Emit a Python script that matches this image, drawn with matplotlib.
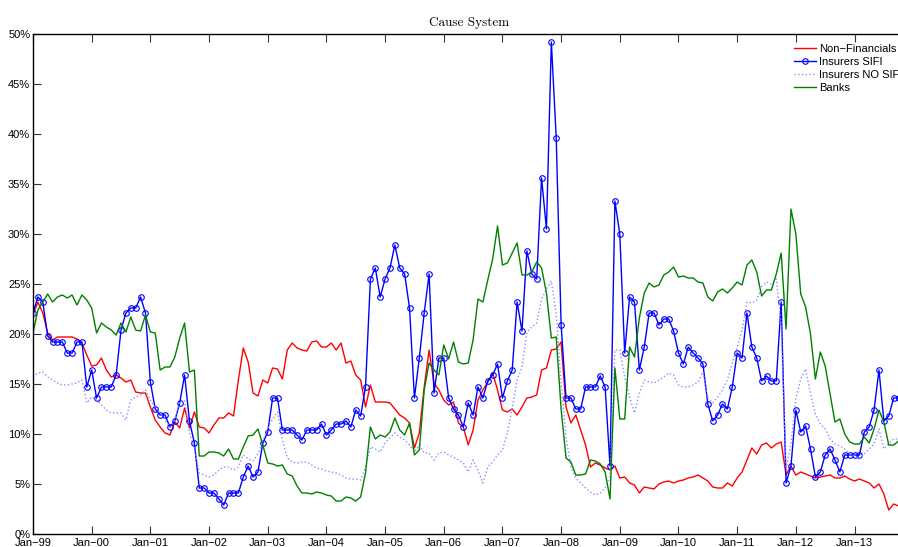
import numpy as np
import matplotlib
matplotlib.use("Agg")
import matplotlib.pyplot as plt

# monthly series, Jan-99 .. Oct-13 (values in %)
non_financials = [
    21.9, 23.2, 22.1, 20.1, 19.4, 19.7, 19.7, 19.7, 19.7, 19.5, 19.1, 17.9,
    16.8, 16.9, 17.6, 16.4, 15.7, 15.9, 15.6, 15.2, 15.4, 14.2, 14.1, 14.1,
    12.7, 11.4, 10.7, 10.1, 9.9, 11.2, 10.6, 12.6, 10.6, 12.2, 10.7, 10.6,
    10.1, 10.9, 11.6, 11.6, 12.1, 11.8, 15.4, 18.6, 17.2, 14.1, 13.8, 15.4,
    15.1, 16.6, 16.5, 15.5, 18.4, 19.1, 18.6, 18.4, 18.3, 19.2, 19.3, 18.7,
    18.7, 19.1, 18.4, 19.1, 17.1, 17.3, 15.9, 15.4, 12.7, 14.9, 13.2, 13.2,
    13.2, 13.1, 12.5, 11.9, 11.6, 11.1, 8.6, 10.1, 14.7, 18.4, 15.1, 14.4,
    13.4, 12.9, 13.2, 11.1, 10.7, 8.9, 10.4, 13.4, 14.4, 15.2, 16.1, 14.4,
    12.4, 12.2, 12.5, 11.9, 12.7, 13.6, 13.7, 13.9, 16.4, 16.6, 18.4, 18.5,
    19.2, 12.7, 11.1, 11.9, 10.4, 8.9, 6.7, 7.1, 6.9, 6.6, 6.4, 6.8,
    5.6, 5.7, 5.1, 4.9, 4.1, 4.7, 4.6, 4.5, 5.0, 5.2, 5.3, 5.1,
    5.3, 5.4, 5.6, 5.7, 5.9, 5.6, 5.3, 4.7, 4.6, 4.6, 5.1, 4.8,
    5.6, 6.2, 7.4, 8.6, 8.0, 8.9, 9.1, 8.6, 9.0, 9.2, 5.9, 6.8,
    5.9, 6.2, 6.0, 5.8, 5.6, 5.7, 5.8, 5.9, 5.6, 5.6, 5.8, 5.5,
    5.3, 5.5, 5.3, 5.1, 4.6, 5.0, 4.0, 2.4, 3.0, 2.8,
]

insurers_sifi = [
    22.1, 23.7, 23.2, 19.8, 19.2, 19.2, 19.2, 18.1, 18.1, 19.2, 19.2, 14.7,
    16.4, 13.6, 14.7, 14.7, 14.7, 15.9, 20.4, 22.1, 22.6, 22.6, 23.7, 22.1,
    15.2, 12.5, 11.9, 11.9, 10.7, 11.3, 13.1, 15.9, 11.3, 9.1, 4.6, 4.6,
    4.1, 4.1, 3.5, 2.9, 4.1, 4.1, 4.1, 5.7, 6.8, 5.7, 6.2, 9.1,
    10.2, 13.6, 13.6, 10.4, 10.4, 10.4, 9.9, 9.4, 10.4, 10.4, 10.4, 11.0,
    9.9, 10.4, 11.0, 11.0, 11.3, 10.7, 12.4, 11.8, 14.7, 25.5, 26.6, 23.7,
    25.5, 26.6, 28.9, 26.6, 26.0, 22.6, 13.6, 17.6, 22.1, 26.0, 14.1, 17.6,
    17.6, 13.6, 12.5, 11.9, 10.7, 13.1, 11.9, 14.7, 13.6, 15.3, 15.9, 17.0,
    13.6, 15.3, 16.4, 23.2, 20.3, 28.3, 26.0, 25.5, 35.6, 30.5, 49.2, 39.6,
    20.9, 13.6, 13.6, 12.5, 12.5, 14.7, 14.7, 14.7, 15.8, 14.7, 6.8, 33.3,
    30.0, 18.1, 23.7, 23.2, 16.4, 18.7, 22.1, 22.1, 20.9, 21.5, 21.5, 20.3,
    18.1, 17.0, 18.7, 18.1, 17.6, 17.0, 13.0, 11.3, 11.9, 13.0, 12.5, 14.7,
    18.1, 17.6, 22.1, 18.7, 17.6, 15.3, 15.8, 15.3, 15.3, 23.2, 5.1, 6.8,
    12.4, 10.2, 10.8, 8.5, 5.7, 6.2, 7.9, 8.5, 7.4, 6.2, 7.9, 7.9,
    7.9, 7.9, 10.2, 10.7, 12.4, 16.4, 11.3, 11.8, 13.6, 13.6,
]

insurers_no_sifi = [
    15.7, 16.1, 16.2, 15.7, 15.4, 15.1, 14.9, 14.9, 15.0, 15.1, 15.4, 13.1,
    13.7, 13.4, 12.9, 12.4, 12.1, 12.1, 12.1, 11.4, 13.4, 13.7, 13.9, 14.4,
    13.4, 12.7, 12.1, 11.4, 10.7, 11.4, 13.2, 13.4, 10.1, 8.6, 6.1, 5.9,
    5.7, 5.9, 6.4, 6.7, 6.7, 6.4, 6.7, 7.9, 7.5, 7.3, 8.0, 9.3,
    10.6, 11.5, 12.2, 9.4, 7.6, 7.2, 7.1, 7.2, 7.2, 6.9, 6.6, 6.5,
    6.3, 6.2, 6.1, 5.9, 5.6, 5.5, 5.5, 5.4, 6.7, 8.7, 8.5, 8.2,
    9.1, 9.6, 10.1, 9.7, 9.4, 8.9, 8.2, 8.9, 8.1, 8.1, 7.4, 8.1,
    8.2, 7.9, 7.7, 7.4, 7.1, 6.2, 7.4, 6.4, 5.1, 6.7, 7.2, 7.9,
    8.4, 10.1, 12.6, 15.4, 16.7, 20.2, 20.7, 21.1, 23.5, 24.5, 25.3, 22.0,
    15.1, 9.7, 6.7, 5.6, 5.1, 4.6, 4.2, 3.9, 4.1, 4.6, 5.7, 18.4,
    18.4, 15.7, 13.7, 12.1, 14.1, 15.4, 15.2, 15.1, 15.4, 15.7, 16.1, 15.9,
    14.9, 14.7, 14.7, 14.9, 15.2, 16.2, 13.6, 13.1, 13.7, 14.4, 15.4, 17.1,
    18.7, 20.4, 23.2, 23.1, 23.4, 24.7, 25.2, 25.0, 25.5, 21.0, 6.5, 9.0,
    13.5, 15.5, 16.5, 14.0, 12.0, 11.0, 10.5, 9.5, 9.0, 8.8, 8.5, 8.0,
    7.8, 7.5, 8.0, 8.5, 9.0, 10.5, 8.5, 9.0, 9.5, 9.5,
]

banks = [
    20.1, 22.4, 23.2, 24.0, 23.2, 23.7, 23.9, 23.6, 23.9, 22.9, 23.9, 23.4,
    22.6, 20.1, 21.1, 20.7, 20.4, 19.9, 21.1, 20.2, 21.7, 20.4, 20.3, 21.9,
    20.2, 20.1, 16.4, 16.7, 16.7, 17.7, 19.6, 21.1, 16.2, 16.4, 7.8, 7.8,
    8.2, 8.2, 8.1, 7.8, 8.5, 7.5, 7.5, 8.7, 9.8, 9.9, 10.5, 8.9,
    7.1, 7.0, 6.8, 6.9, 6.0, 5.8, 4.8, 4.1, 4.1, 4.0, 4.2, 4.1,
    3.9, 3.8, 3.3, 3.3, 3.7, 3.6, 3.3, 3.7, 6.1, 10.7, 9.5, 9.9,
    9.7, 10.2, 11.6, 10.4, 9.9, 11.1, 7.9, 8.4, 14.4, 17.1, 16.4, 15.9,
    18.9, 17.5, 19.2, 17.2, 17.0, 17.1, 19.4, 23.5, 23.2, 25.4, 27.5, 30.8,
    26.9, 27.1, 28.1, 29.1, 25.9, 25.9, 26.2, 27.2, 26.6, 24.1, 19.6, 19.7,
    12.5, 7.6, 7.2, 5.9, 5.9, 6.0, 7.4, 7.3, 7.0, 6.2, 3.5, 16.6,
    11.5, 11.5, 18.7, 17.7, 21.6, 24.1, 25.1, 24.7, 24.9, 25.9, 26.2, 26.7,
    25.7, 25.8, 25.6, 25.6, 25.2, 25.1, 23.7, 23.3, 24.2, 24.5, 24.1, 24.6,
    25.2, 24.9, 26.9, 27.4, 26.2, 23.8, 24.4, 24.4, 26.0, 28.1, 20.5, 32.5,
    30.0, 24.0, 22.7, 20.0, 15.5, 18.2, 16.8, 14.0, 11.2, 11.5, 10.0, 9.2,
    9.0, 9.0, 9.7, 9.1, 10.5, 12.4, 11.2, 8.9, 8.9, 9.3,
]

tick_labels = ["Jan\u221299", "Jan\u221200", "Jan\u221201", "Jan\u221202", "Jan\u221203",
               "Jan\u221204", "Jan\u221205", "Jan\u221206", "Jan\u221207", "Jan\u221208",
               "Jan\u221209", "Jan\u221210", "Jan\u221211", "Jan\u221212", "Jan\u221213"]


def plot_cause_system():
    plt.rcParams['font.family'] = ['Liberation Sans', 'DejaVu Sans']

    fig = plt.figure(figsize=(8.98, 5.47), dpi=100)
    # axes run a little past the right border, as in the cropped original
    ax = fig.add_axes([33 / 898, 13 / 547, 873 / 898, 500 / 547])

    months = np.arange(len(non_financials))

    ax.plot(months, non_financials, color='#ff0000', lw=1.0, label='Non\u2212Financials')
    ax.plot(months, insurers_sifi, color='#0000ff', lw=1.0, marker='o', markersize=4,
            markerfacecolor='none', markeredgewidth=0.8, label='Insurers SIFI')
    ax.plot(months, insurers_no_sifi, color='#8c8cff', lw=1.0, linestyle=':',
            label='Insurers NO SIFI')
    ax.plot(months, banks, color='#008000', lw=1.0, label='Banks')

    ax.set_xlim(0, 873 / 4.89)
    ax.set_ylim(0, 50)

    ax.set_xticks(np.arange(len(tick_labels)) * 12)
    ax.set_xticklabels(tick_labels)
    yt = np.arange(0, 51, 5)
    ax.set_yticks(yt)
    ax.set_yticklabels([f"{v}%" for v in yt])

    ax.tick_params(direction='in', length=5.5, width=0.8, labelsize=8,
                   top=True, right=True, color='#333333')
    ax.tick_params(axis='x', pad=3)
    ax.tick_params(axis='y', pad=2)
    for s in ax.spines.values():
        s.set_linewidth(1.0)

    ax.set_title('Cause System', fontfamily='cmr10', fontsize=9.5, pad=6)

    # legend without a frame, its right part falls outside the picture
    ax.legend(loc='upper left', bbox_to_anchor=(788 / 898, 1 - 38 / 547),
              bbox_transform=fig.transFigure, frameon=False, fontsize=8,
              borderpad=0, handlelength=2.0, handletextpad=0.3, labelspacing=0.28)

    fig.savefig('out.png', dpi=100)


if __name__ == '__main__':
    plot_cause_system()
